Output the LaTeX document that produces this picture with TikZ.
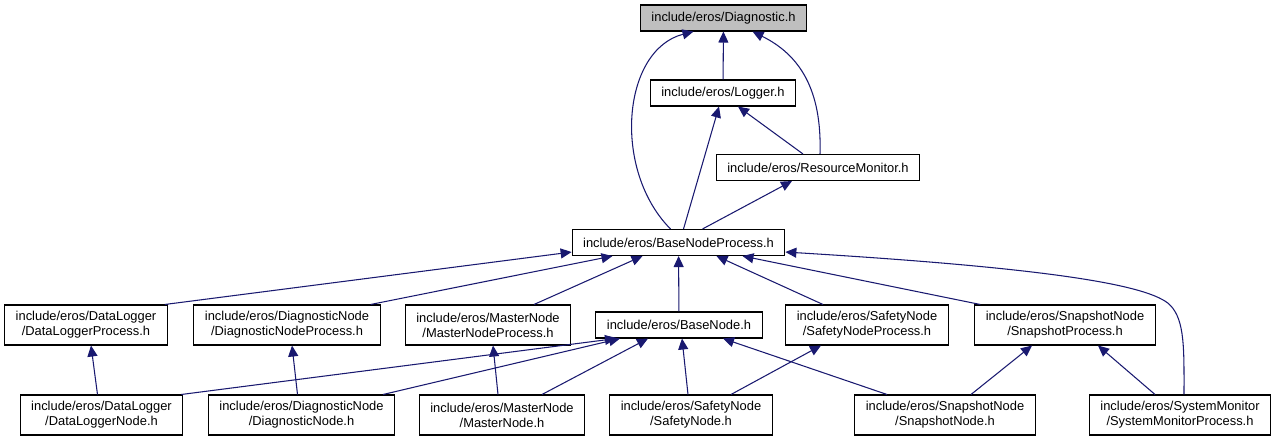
\documentclass[tikz,border=0pt]{standalone}
\usepackage{fontspec}
\setmainfont{Liberation Sans}
\usetikzlibrary{arrows.meta,calc}
\definecolor{edgeblue}{HTML}{191970}
\definecolor{rootgray}{HTML}{BFBFBF}

\begin{document}
\begin{tikzpicture}[x=0.02cm, y=-0.02cm,
    hdr/.style={draw=black, line width=0.6pt, fill=white, align=center,
        inner xsep=0.22cm, inner ysep=0pt, minimum height=0.52cm,
        font=\fontsize{7.34}{8.5}\selectfont},
    hdr2/.style={hdr, minimum height=0.8cm},
    dep/.style={draw=edgeblue, line width=0.6pt,
        {Triangle[length=0.22cm, width=0.2cm]}-}]
    \fill[white] (0,0) rectangle (1277,440);
    % top of the graph
    \node[hdr, fill=rootgray] (diag) at (723.5,18) {include/eros/Diagnostic.h};
    \node[hdr] (logger) at (723,93) {include/eros/Logger.h};
    \node[hdr] (resmon) at (818,167.5) {include/eros/ResourceMonitor.h};
    \node[hdr] (bnp) at (678.5,242.5) {include/eros/BaseNodeProcess.h};
    % second row
    \node[hdr2] (dlp) at (86,325) {include/eros/DataLogger\\/DataLoggerProcess.h};
    \node[hdr2] (dnp) at (287,325) {include/eros/DiagnosticNode\\/DiagnosticNodeProcess.h};
    \node[hdr2] (mnp) at (488,325) {include/eros/MasterNode\\/MasterNodeProcess.h};
    \node[hdr] (bn) at (679,325) {include/eros/BaseNode.h};
    \node[hdr2] (snp) at (867,325) {include/eros/SafetyNode\\/SafetyNodeProcess.h};
    \node[hdr2] (ssp) at (1065,325) {include/eros/SnapshotNode\\/SnapshotProcess.h};
    % third row
    \node[hdr2] (dln) at (101.5,415) {include/eros/DataLogger\\/DataLoggerNode.h};
    \node[hdr2] (dn) at (301.5,415) {include/eros/DiagnosticNode\\/DiagnosticNode.h};
    \node[hdr2] (mn) at (502,415) {include/eros/MasterNode\\/MasterNode.h};
    \node[hdr2] (sn) at (691,415) {include/eros/SafetyNode\\/SafetyNode.h};
    \node[hdr2] (ssn) at (945,415) {include/eros/SnapshotNode\\/SnapshotNode.h};
    \node[hdr2] (smp) at (1180,415) {include/eros/SystemMonitor\\/SystemMonitorProcess.h};

    % includes of Diagnostic.h, Logger.h, ResourceMonitor.h
    \draw[dep] (diag) -- (logger);
    \draw[dep] ($(diag.south)+(-30,0)$) .. controls (622,50) and (612,170) .. ($(bnp.north)+(-8,0)$);
    \draw[dep] ($(diag.south)+(29,0)$) .. controls (800,55) and (822,90) .. ($(resmon.north)+(2,0)$);
    \draw[dep] ($(logger.south)+(-4,0)$) -- ($(bnp.north)+(5,0)$);
    \draw[dep] ($(logger.south)+(15,0)$) -- ($(resmon.north)+(-15,0)$);
    \draw[dep] ($(resmon.south)+(-26,0)$) -- ($(bnp.north)+(24,0)$);

    % includes of BaseNodeProcess.h
    \draw[dep] ($(bnp.south west)+(0,-4)$) -- ($(dlp.north east)+(-3,0)$);
    \draw[dep] ($(bnp.south)+(-66,0)$) -- ($(dnp.north east)+(-10,0)$);
    \draw[dep] ($(bnp.south)+(-36,0)$) -- ($(mnp.north)+(46,0)$);
    \draw[dep] (bnp) -- (bn);
    \draw[dep] ($(bnp.south)+(38,0)$) -- ($(snp.north)+(-44,0)$);
    \draw[dep] ($(bnp.south)+(64,0)$) -- ($(ssp.north west)+(6,0)$);
    \draw[dep] ($(bnp.south east)+(0,-4)$) .. controls (1050,268) and (1150,285) .. (1170,305)
        .. controls (1185,320) and (1184,350) .. ($(smp.north)+(4,0)$);

    % process headers down to node headers
    \foreach \p/\c in {dlp/dln, dnp/dn, mnp/mn} {
        \draw[dep] ($(\p.south)+(5,0)$) -- ($(\c.north)+(-4,0)$);
    }
    \draw[dep] ($(snp.south)+(-46,0)$) -- ($(sn.north)+(40,0)$);
    \draw[dep] ($(ssp.south)+(-33,0)$) -- ($(ssn.north)+(26,0)$);
    \draw[dep] ($(ssp.south)+(33,0)$) -- ($(smp.north)+(-25,0)$);

    % includes of BaseNode.h
    \draw[dep] ($(bn.south)+(-63,0)$) -- ($(dln.north east)+(-2,0)$);
    \draw[dep] ($(bn.south)+(-59,0)$) -- ($(dn.north east)+(-12,0)$);
    \draw[dep] ($(bn.south)+(-31,0)$) -- ($(mn.north)+(40,0)$);
    \draw[dep] ($(bn.south)+(3,0)$) -- ($(sn.north)+(-3,0)$);
    \draw[dep] ($(bn.south)+(44,0)$) -- ($(ssn.north)+(-58,0)$);
\end{tikzpicture}
\end{document}
